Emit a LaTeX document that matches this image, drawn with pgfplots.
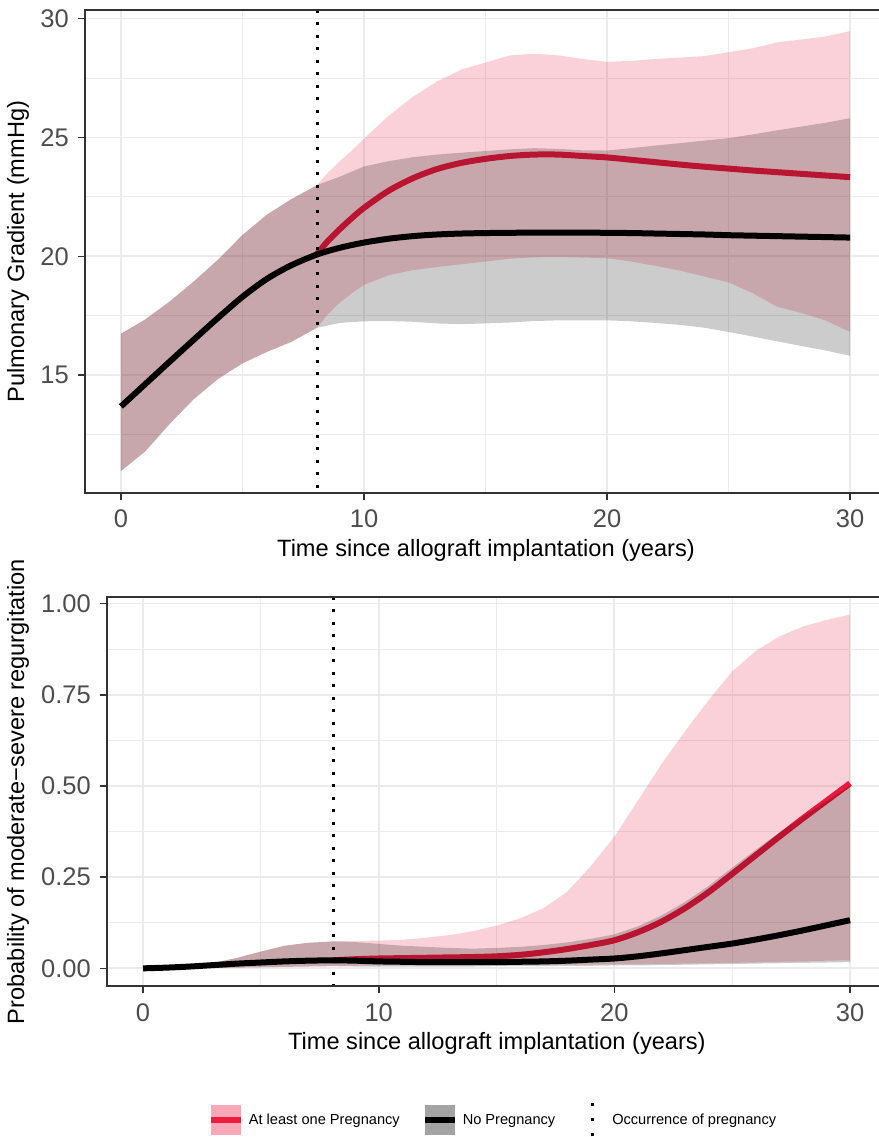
\documentclass[border=0pt]{standalone}
\usepackage{pgfplots}
\pgfplotsset{compat=1.18}
\usepackage{pgfplotstable}
\usepackage{fontspec}
\setmainfont{Liberation Sans}
\definecolor{pk}{RGB}{232,25,60}
\definecolor{framec}{RGB}{51,51,51}
\definecolor{tl}{RGB}{77,77,77}
\definecolor{gridc}{RGB}{235,235,235}
\definecolor{pkkey}{RGB}{248,168,182}
\definecolor{gykey}{RGB}{163,163,163}
\definecolor{redkey}{RGB}{238,28,64}

% top panel: pink band (upper forward, lower back)
\pgfplotstableread{
x y
0 16.75
1 17.35
2 18.1
3 18.95
4 19.87
5 20.9
6 21.75
7 22.4
8.07 23.0
8.5 23.5
9 24.0
9.5 24.45
10 24.95
11 25.9
12 26.7
13 27.35
14 27.85
15 28.15
16 28.45
17 28.52
18 28.45
19 28.3
20 28.18
21 28.22
22 28.3
23 28.36
24 28.42
25 28.58
26 28.75
27 29.0
28 29.12
29 29.25
30 29.47
30 16.82
29 17.3
28 17.62
27 17.88
26 18.45
25 18.91
24 19.15
23 19.4
22 19.6
21 19.78
20 19.92
19 19.95
18 19.97
17 19.96
16 19.9
15 19.78
14 19.67
13 19.55
12 19.42
11 19.2
10 18.8
9.5 18.45
9 18.05
8.5 17.55
8.07 17.0
7 16.4
6 15.98
5 15.5
4 14.85
3 14.0
2 12.95
1 11.8
0 10.97
}\toppink

\pgfplotstableread{
x y
0 16.75
1 17.35
2 18.1
3 18.95
4 19.87
5 20.9
6 21.75
7 22.4
8.07 23.0
9 23.35
10 23.78
11 24.0
12 24.17
13 24.28
14 24.36
15 24.43
16 24.5
17 24.55
18 24.52
19 24.46
20 24.45
21 24.55
22 24.66
23 24.76
24 24.87
25 24.97
26 25.13
27 25.3
28 25.46
29 25.62
30 25.81
30 15.82
29 16.04
28 16.23
27 16.43
26 16.63
25 16.82
24 17.0
23 17.12
22 17.2
21 17.27
20 17.31
19 17.31
18 17.31
17 17.28
16 17.22
15 17.18
14 17.15
13 17.18
12 17.25
11 17.28
10 17.27
9 17.2
8.07 17.0
7 16.4
6 15.98
5 15.5
4 14.85
3 14.0
2 12.95
1 11.8
0 10.97
}\topgrey

\pgfplotstableread{
x y
0 13.69
1 14.63
2 15.57
3 16.5
4 17.42
5 18.3
6 19.05
7 19.62
8.07 20.08
9 20.36
10 20.58
11 20.74
12 20.85
13 20.92
14 20.96
15 20.98
16 20.99
17 21.0
18 21.0
19 21.0
20 20.99
21 20.98
22 20.96
23 20.94
24 20.92
25 20.89
26 20.87
27 20.85
28 20.83
29 20.81
30 20.79
}\topblack

\pgfplotstableread{
x y
8.07 20.1
8.5 20.63
9 21.14
9.5 21.61
10 22.04
11 22.75
12 23.28
13 23.67
14 23.93
15 24.1
16 24.22
17 24.28
18 24.28
19 24.22
20 24.16
21 24.06
22 23.96
23 23.86
24 23.77
25 23.69
26 23.61
27 23.54
28 23.47
29 23.4
30 23.33
}\topred

% bottom panel
\pgfplotstableread{
x y
0 0
1 0.004
2 0.008
3 0.015
4 0.029
5 0.046
6 0.062
7 0.07
8.07 0.074
9 0.075
10 0.076
11 0.078
12 0.084
13 0.091
14 0.102
15 0.117
16 0.137
17 0.165
18 0.21
19 0.28
20 0.361
21 0.46
22 0.56
23 0.65
24 0.735
25 0.814
26 0.87
27 0.91
28 0.937
29 0.955
30 0.97
30 0.022
29 0.021
28 0.019
27 0.018
26 0.016
25 0.015
24 0.014
23 0.013
22 0.012
21 0.011
20 0.011
19 0.010
18 0.010
17 0.009
16 0.009
15 0.009
14 0.008
13 0.008
12 0.008
11 0.008
10 0.008
9 0.007
8.07 0.006
7 0.005
6 0.004
5 0.003
4 0.002
3 0.001
2 0.001
1 0
0 0
}\botpink

\pgfplotstableread{
x y
0 0
1 0.004
2 0.008
3 0.015
4 0.029
5 0.046
6 0.062
7 0.07
8.07 0.074
9 0.072
10 0.067
11 0.062
12 0.059
13 0.056
14 0.054
15 0.056
16 0.059
17 0.064
18 0.071
19 0.081
20 0.093
21 0.115
22 0.145
23 0.182
24 0.226
25 0.276
26 0.325
27 0.372
28 0.416
29 0.458
30 0.500
30 0.017
29 0.016
28 0.015
27 0.014
26 0.013
25 0.012
24 0.011
23 0.010
22 0.009
21 0.008
20 0.008
19 0.007
18 0.007
17 0.006
16 0.006
15 0.006
14 0.005
13 0.005
12 0.005
11 0.005
10 0.005
9 0.005
8.07 0.006
7 0.005
6 0.004
5 0.003
4 0.002
3 0.001
2 0.001
1 0
0 0
}\botgrey

\pgfplotstableread{
x y
0 0
1 0.002
2 0.005
3 0.009
4 0.013
5 0.016
6 0.019
7 0.021
8.07 0.022
9 0.021
10 0.019
11 0.018
12 0.017
13 0.017
14 0.017
15 0.017
16 0.018
17 0.019
18 0.021
19 0.024
20 0.027
21 0.033
22 0.041
23 0.050
24 0.059
25 0.068
26 0.079
27 0.091
28 0.104
29 0.118
30 0.132
}\botblack

\pgfplotstableread{
x y
8.07 0.022
9 0.025
10 0.027
11 0.028
12 0.029
13 0.030
14 0.031
15 0.033
16 0.037
17 0.044
18 0.053
19 0.064
20 0.077
21 0.099
22 0.128
23 0.165
24 0.209
25 0.259
26 0.310
27 0.361
28 0.411
29 0.459
30 0.507
}\botred

\pgfplotsset{
  myax/.style={
    scale only axis, clip=false,
    axis line style={draw=none},
    tick align=outside, xtick pos=bottom, ytick pos=left,
    major tick length=7bp, minor tick length=0pt,
    every tick/.style={framec, line width=1.6bp},
    xmajorgrids, ymajorgrids, xminorgrids, yminorgrids,
    major grid style={gridc, line width=1.8bp},
    minor grid style={gridc, line width=0.9bp},
    ticklabel style={font=\fontsize{25.5bp}{30bp}\selectfont, text=tl, inner sep=0pt},
    xticklabel style={anchor=north, yshift=-10bp},
    yticklabel style={anchor=east, xshift=-9bp},
    xtick={0,10,20,30}, xticklabels={0,10,20,30},
    minor xtick={5,15,25},
  }
}

\begin{document}
\begin{tikzpicture}
\useasboundingbox (0,0) rectangle (879bp,1137bp);
% ---------- top panel ----------
\begin{axis}[myax,
  at={(85bp,1127bp)}, anchor=north west,
  width=794bp, height=483bp,
  xmin=-1.48, xmax=31.19, ymin=10.05, ymax=30.36,
  ytick={15,20,25,30}, yticklabels={15,20,25,30},
  minor ytick={12.5,17.5,22.5,27.5},
  every axis x label/.style={at={(axis description cs:0.505,-0.118)}, anchor=center, font=\fontsize{23.6bp}{28bp}\selectfont},
  every axis y label/.style={at={(axis description cs:-0.0844,0.5)}, rotate=90, anchor=center, font=\fontsize{23.6bp}{28bp}\selectfont},
  xlabel={Time since allograft implantation (years)},
  ylabel={Pulmonary Gradient (mmHg)},
]
\addplot[fill=pk, fill opacity=0.2, draw=none, forget plot] table[x=x,y=y]{\toppink};
\addplot[pk, line width=6bp, smooth, forget plot] table[x=x,y=y]{\topred};
\addplot[fill=black, fill opacity=0.2, draw=none, forget plot] table[x=x,y=y]{\topgrey};
\addplot[black, line width=6bp, smooth, forget plot] table[x=x,y=y]{\topblack};
\addplot[black, line width=3bp, dash pattern=on 3bp off 9.5bp, forget plot] coordinates {(8.07,30.36) (8.07,10.05)};
\draw[framec, line width=2bp] (rel axis cs:1,1) -- (rel axis cs:0,1) -- (rel axis cs:0,0) -- (rel axis cs:1,0);
\end{axis}
% ---------- bottom panel ----------
\begin{axis}[myax,
  at={(107bp,540bp)}, anchor=north west,
  width=772bp, height=389bp,
  xmin=-1.53, xmax=31.23, ymin=-0.0484, ymax=1.018,
  ytick={0,0.25,0.5,0.75,1}, yticklabels={0.00,0.25,0.50,0.75,1.00},
  minor ytick={0.125,0.375,0.625,0.875},
  every axis x label/.style={at={(axis description cs:0.505,-0.1465)}, anchor=center, font=\fontsize{23.6bp}{28bp}\selectfont},
  every axis y label/.style={at={(axis description cs:-0.1153,0.5)}, rotate=90, anchor=center, font=\fontsize{23.6bp}{28bp}\selectfont},
  xlabel={Time since allograft implantation (years)},
  ylabel={Probability of moderate−severe regurgitation},
  legend style={at={(axis description cs:0.5,-0.344)}, anchor=center, draw=none, fill=none,
    font=\fontsize{14.6bp}{17bp}\selectfont, inner sep=0pt,
    /tikz/every odd column/.append style={column sep=3bp},
    /tikz/every even column/.append style={column sep=20bp}},
  legend columns=3, legend cell align=left,
]
\addplot[fill=pk, fill opacity=0.2, draw=none, forget plot] table[x=x,y=y]{\botpink};
\addplot[pk, line width=6bp, smooth, forget plot] table[x=x,y=y]{\botred};
\addplot[fill=black, fill opacity=0.2, draw=none, forget plot] table[x=x,y=y]{\botgrey};
\addplot[black, line width=6bp, smooth, forget plot] table[x=x,y=y]{\botblack};
\addplot[black, line width=3bp, dash pattern=on 3bp off 9.5bp, forget plot] coordinates {(8.07,1.018) (8.07,-0.0484)};
\draw[framec, line width=2bp] (rel axis cs:1,1) -- (rel axis cs:0,1) -- (rel axis cs:0,0) -- (rel axis cs:1,0);
\addlegendimage{legend image code/.code={\fill[pkkey, draw=none] (0bp,-15bp) rectangle (30bp,15bp); \draw[redkey, line width=6bp] (0bp,0bp) -- (30bp,0bp);}}
\addlegendentry{At least one Pregnancy}
\addlegendimage{legend image code/.code={\fill[gykey, draw=none] (0bp,-15bp) rectangle (30bp,15bp); \draw[black, line width=6bp] (0bp,0bp) -- (30bp,0bp);}}
\addlegendentry{No Pregnancy}
\addlegendimage{legend image code/.code={\path[draw=none, fill=none] (0bp,-15bp) rectangle (30bp,15bp); \draw[black, line width=3bp, dash pattern=on 3bp off 12bp] (15bp,-16.5bp) -- (15bp,16.5bp);}}
\addlegendentry{Occurrence of pregnancy}
\end{axis}
\end{tikzpicture}
\end{document}
